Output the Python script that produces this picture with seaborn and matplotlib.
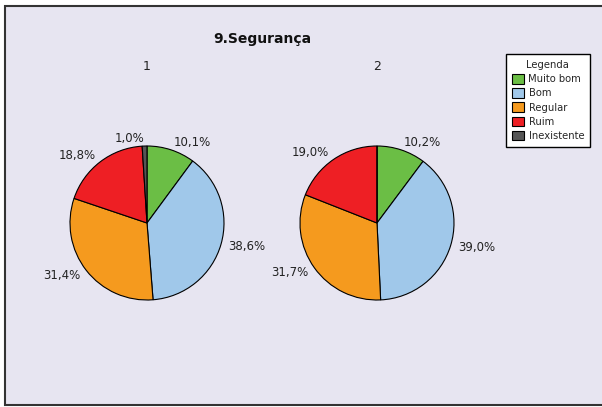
import matplotlib.pyplot as plt
import seaborn as sns
from matplotlib.patches import Rectangle

categorias = ["Muito bom", "Bom", "Regular", "Ruim", "Inexistente"]
grupo_1 = [10.1, 38.6, 31.4, 18.8, 1.0]
grupo_2 = [10.2, 39.0, 31.7, 19.0, 0.0]
subtitulos = ["1", "2"]
cores = ["#6BBE45", "#A0C8EA", "#F59A1E", "#EE1F24", "#555555"]

sns.set_style("white")
plt.rcParams["font.family"] = ["DejaVu Sans"]

W, H = 602, 407
fig = plt.figure(figsize=(W / 100, H / 100), dpi=100)
fig.patch.set_facecolor("white")

# fundo com moldura
fig.patches.append(Rectangle((5 / W, 1 - 405 / H), 1.0, 399 / H,
                             transform=fig.transFigure, facecolor="#E7E5F1",
                             edgecolor="#333333", lw=1.5, zorder=-5))

palette = sns.color_palette(cores)
centros = [(147, 223), (377, 223)]
raio = 77
wedges_leg = None

for valores, sub, (cx, cy) in zip([grupo_1, grupo_2], subtitulos, centros):
    ax = fig.add_axes([(cx - 100) / W, 1 - (cy + 100) / H, 200 / W, 200 / H])
    ax.set_zorder(2)
    rotulos = [f"{v:.1f}%".replace(".", ",") if v > 0 else "" for v in valores]
    wedges, _ = ax.pie(valores, labels=rotulos, colors=palette, startangle=90,
                       counterclock=False, labeldistance=1.1,
                       wedgeprops=dict(edgecolor="black", linewidth=0.8),
                       textprops=dict(fontsize=8.5, color="#222222"))
    lim = 100 / raio
    ax.set_xlim(-lim, lim)
    ax.set_ylim(-lim, lim)
    ax.axis("off")
    fig.text(cx / W, 1 - 67 / H, sub, ha="center", va="center", fontsize=9,
             color="#222222")
    if wedges_leg is None:
        wedges_leg = wedges

fig.text(262 / W, 1 - 39 / H, "9.Segurança", ha="center", va="center",
         fontsize=10, fontweight="bold", color="#111111")

leg = fig.legend(wedges_leg, categorias, title="Legenda", loc="upper left",
                 bbox_to_anchor=(505.5 / W, 1 - 54 / H), fontsize=7.2,
                 title_fontsize=7.2, frameon=True, fancybox=False,
                 edgecolor="black", facecolor="white", framealpha=1,
                 handlelength=1.2, handleheight=1.1, handletextpad=0.5,
                 labelspacing=0.4, borderpad=0.6, borderaxespad=0)
leg.get_frame().set_linewidth(1.0)
leg.set_zorder(3)

fig.savefig("out.png", dpi=100)
